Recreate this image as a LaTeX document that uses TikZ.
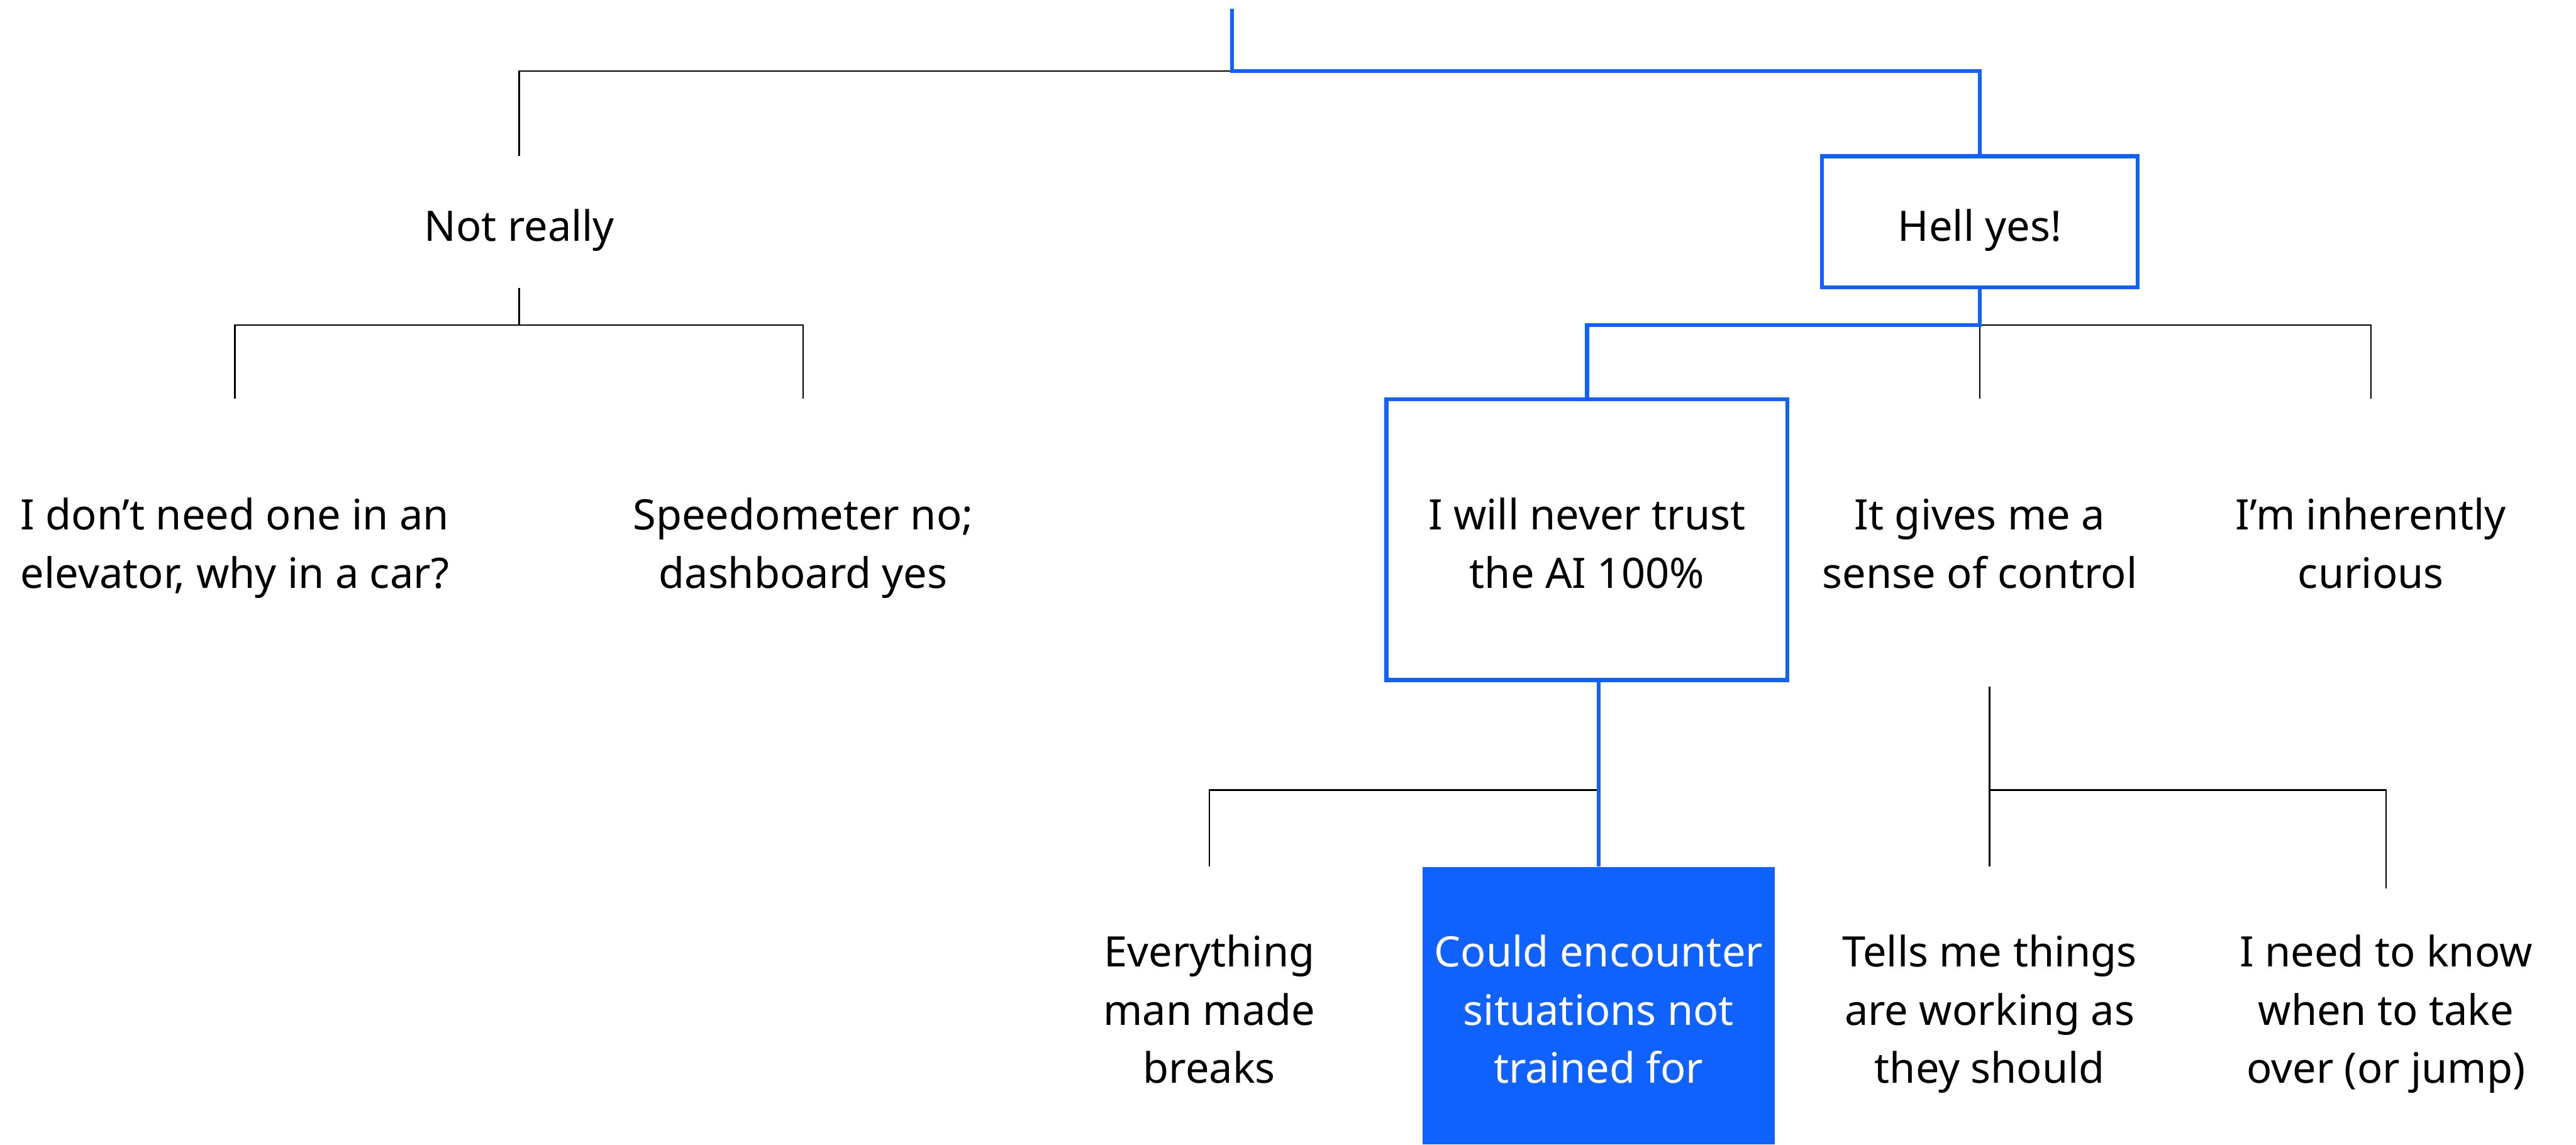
\documentclass[tikz,border=0pt]{standalone}
\usepackage{fontspec}
\setmainfont{Noto Sans}
\usetikzlibrary{positioning}
\definecolor{ibmblue}{HTML}{0F62FE}
% centred block of lines, set a little below the node centre
\newcommand{\answer}[1]{\raisebox{-0.13cm}[\height][\depth]{\begin{tabular}{@{}c@{}}#1\end{tabular}}}
\begin{document}
\begin{tikzpicture}[
  txt/.style={inner sep=0pt, font=\fontsize{20.5pt}{28.5pt}\selectfont, text=black},
  lvlone/.style={txt, minimum width=5.42cm, minimum height=2.25cm},
  lvltwo/.style={txt, minimum width=6.88cm, minimum height=4.82cm},
  lvlthree/.style={txt, minimum width=6.04cm, minimum height=4.76cm},
  pick/.style={draw=ibmblue, line width=2pt},
  pickfill/.style={fill=ibmblue, text=white},
  wire/.style={draw=black, line width=0.8pt},
  bluewire/.style={draw=ibmblue, line width=2pt},
]
\useasboundingbox (0,0) rectangle (44.2,-19.64);

% first level answers
\node[lvlone] (nr) at (8.91,-3.805) {\answer{Not really}};
\node[lvlone, pick] (hy) at (33.97,-3.805) {\answer{Hell yes!}};

% second level answers
\node[lvltwo] (dont) at (4.03,-9.26) {\answer{I don’t need one in an\\elevator, why in a car?}};
\node[lvltwo] (speedo) at (13.78,-9.26) {\answer{Speedometer no;\\dashboard yes}};
\node[lvltwo, pick] (trust) at (27.23,-9.26) {\answer{I will never trust\\the AI 100\%}};
\node[lvltwo] (sense) at (33.97,-9.26) {\answer{It gives me a\\sense of control}};
\node[lvltwo] (curious) at (40.68,-9.26) {\answer{I’m inherently\\curious}};

% third level answers
\node[lvlthree] (every) at (20.75,-17.26) {\answer{Everything\\man made\\breaks}};
\node[lvlthree, pickfill] (could) at (27.43,-17.26) {\answer{Could encounter\\situations not\\trained for}};
\node[lvlthree] (tells) at (34.14,-17.26) {\answer{Tells me things\\are working as\\they should}};
\node[lvlthree] (needk) at (40.94,-17.26) {\answer{I need to know\\when to take\\over (or jump)}};

% junction points
\coordinate (top) at (21.14,-0.15);
\coordinate (j0) at (21.14,-1.22);
\coordinate (j1) at (8.91,-5.58);
\coordinate (j2) at (33.97,-5.58);
\coordinate (j3) at (27.43,-13.56);
\coordinate (j4) at (34.14,-13.56);
\coordinate (t3) at (27.43,-11.70);
\coordinate (t4) at (34.14,-11.78);
\coordinate (needtop) at (40.94,-15.25);

% root split
\draw[wire] (j0) -| (nr.north);
\draw[bluewire] (top) -- (j0) -| (hy.north);

% under "Not really"
\draw[wire] (nr.south) -- (j1);
\draw[wire] (j1) -| (dont.north);
\draw[wire] (j1) -| (speedo.north);

% under "Hell yes!"
\draw[wire] (j2) -| (sense.north);
\draw[wire] (j2) -| (curious.north);
\draw[bluewire] (hy.south) -- (j2) -| (trust.north);

% under "I will never trust the AI 100%"
\draw[wire] (j3) -| (every.north);
\draw[bluewire] (t3) -- (could.north);

% under "It gives me a sense of control"
\draw[wire] (t4) -- (tells.north);
\draw[wire] (j4) -| (needtop);
\end{tikzpicture}
\end{document}
